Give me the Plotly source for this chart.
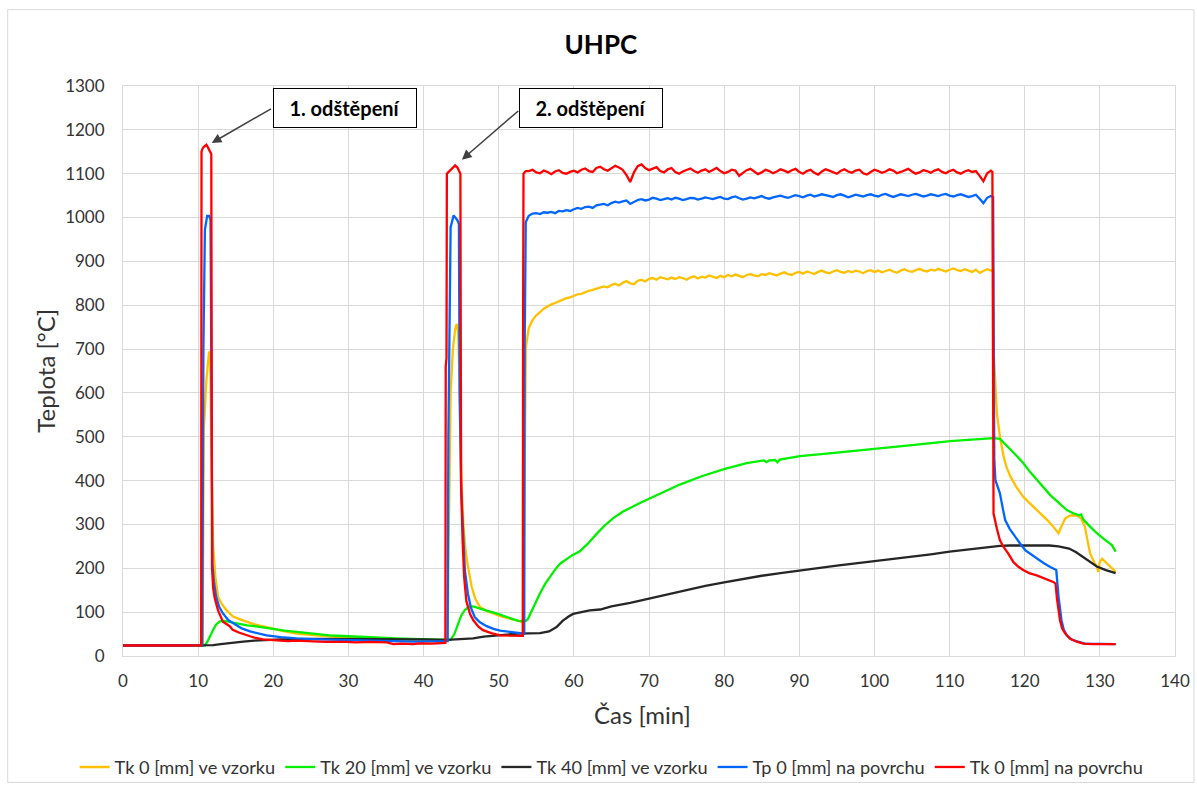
import plotly.graph_objects as go

# ---------------------------------------------------------------------------
# Measured temperatures (time in min, temperature in °C)
# ---------------------------------------------------------------------------

# common sampling times of the long heating phase
T_HOLD = [
    54.0, 54.5, 55.0, 55.5, 56.0, 56.5, 57.0, 57.5, 58.0, 58.5,
    59.0, 59.5, 60.0, 60.5, 61.0, 61.5, 62.0, 62.5, 63.0, 63.5,
    64.0, 64.5, 65.0, 65.5, 66.0, 66.5, 67.0, 67.5, 68.0, 68.5,
    69.0, 69.5, 70.0, 70.5, 71.0, 71.5, 72.0, 72.5, 73.0, 73.5,
    74.0, 74.5, 75.0, 75.5, 76.0, 76.5, 77.0, 77.5, 78.0, 78.5,
    79.0, 79.5, 80.0, 80.5, 81.0, 81.5, 82.0, 82.5, 83.0, 83.5,
    84.0, 84.5, 85.0, 85.5, 86.0, 86.5, 87.0, 87.5, 88.0, 88.5,
    89.0, 89.5, 90.0, 90.5, 91.0, 91.5, 92.0, 92.5, 93.0, 93.5,
    94.0, 94.5, 95.0, 95.5, 96.0, 96.5, 97.0, 97.5, 98.0, 98.5,
    99.0, 99.5, 100.0, 100.5, 101.0, 101.5, 102.0, 102.5, 103.0, 103.5,
    104.0, 104.5, 105.0, 105.5, 106.0, 106.5, 107.0, 107.5, 108.0, 108.5,
    109.0, 109.5, 110.0, 110.5, 111.0, 111.5, 112.0, 112.5, 113.0, 113.5,
    114.0, 114.5, 115.0, 115.5,
]

# --- Tk 0 [mm] na povrchu (red) ---
red_pre = [
    (0, 24), (10.4, 24), (10.45, 1150), (10.6, 1158), (10.8, 1162), (11.1, 1166),
    (11.3, 1160), (11.6, 1152), (11.75, 1145), (11.8, 700), (11.85, 200), (12.0, 155),
    (12.2, 132), (12.65, 104), (12.9, 95), (13.3, 78), (14.2, 68), (14.6, 60),
    (15.5, 53), (16.4, 47), (16.9, 45), (17.5, 42), (18.6, 38), (19.5, 37),
    (20.9, 35), (22.0, 34), (23.0, 35), (25.3, 33), (27.0, 32), (29.7, 32),
    (31.0, 31), (33.0, 32), (35.1, 31), (36.0, 27), (37.0, 28), (38.6, 27),
    (39.5, 29), (41.0, 28), (42.2, 30), (42.9, 30), (42.95, 660), (43.05, 680),
    (43.1, 1100), (43.6, 1108), (44.0, 1115), (44.2, 1119), (44.5, 1114), (44.7, 1108),
    (44.9, 1100), (44.95, 700), (45.0, 390), (45.2, 260), (45.4, 180), (45.7, 125),
    (46.2, 95), (46.6, 82), (47.3, 67), (47.9, 59), (49.0, 52), (50.2, 47),
    (51.5, 46), (52.5, 46), (53.2, 46), (53.25, 800), (53.3, 1100), (53.6, 1106),
]
red_hold = [
    1106, 1109, 1103, 1101, 1107, 1104, 1099, 1105, 1108, 1102,
    1100, 1104, 1107, 1103, 1109, 1112, 1106, 1104, 1113, 1116,
    1110, 1107, 1112, 1118, 1114, 1109, 1097, 1081, 1103, 1117,
    1121, 1113, 1108, 1111, 1115, 1106, 1103, 1110, 1113, 1104,
    1100, 1105, 1109, 1112, 1106, 1102, 1107, 1110, 1104, 1108,
    1113, 1106, 1101, 1104, 1109, 1107, 1095, 1102, 1108, 1111,
    1104, 1099, 1103, 1109, 1106, 1101, 1105, 1110, 1107, 1103,
    1108, 1111, 1104, 1100, 1106, 1109, 1102, 1098, 1105, 1110,
    1107, 1103, 1100, 1106, 1110, 1105, 1102, 1107, 1109, 1101,
    1098, 1104, 1109, 1106, 1102, 1105, 1110, 1107, 1101, 1104,
    1108, 1111, 1105, 1100, 1103, 1108, 1106, 1102, 1107, 1110,
    1104, 1101, 1106, 1109, 1103, 1100, 1105, 1108, 1104, 1106,
    1095, 1083, 1101, 1107,
]
red_post = [
    (115.7, 1104), (115.75, 600), (115.85, 325), (116.3, 290), (116.7, 264),
    (117.2, 248), (117.8, 234), (118.5, 214), (119.2, 203), (119.8, 196),
    (120.6, 189), (121.6, 184), (122.5, 178), (123.2, 174), (123.8, 169),
    (124.1, 165), (124.3, 130), (124.7, 81), (125.0, 62), (125.4, 51),
    (126.0, 40), (127.0, 32), (127.8, 28), (129.0, 27), (132.1, 27),
]

# --- Tp 0 [mm] na povrchu (blue) ---
blue_pre = [
    (0, 24), (10.55, 24), (10.7, 700), (10.9, 972), (11.2, 1004), (11.45, 1004),
    (11.65, 995), (11.75, 700), (11.9, 211), (12.1, 170), (12.4, 135), (12.8, 112),
    (13.3, 97), (14.0, 82), (14.9, 72), (15.8, 63), (16.9, 56), (18.0, 51),
    (19.1, 47), (21.0, 43), (23.1, 40), (26.0, 38), (29.7, 36), (33.0, 35),
    (36.0, 34), (38.6, 33), (40.5, 33), (42.5, 34), (43.2, 34), (43.3, 500),
    (43.6, 978), (44.0, 1005), (44.5, 994), (44.7, 985), (44.8, 600), (45.0, 380),
    (45.3, 260), (45.5, 195), (45.9, 142), (46.3, 110), (46.8, 89), (47.5, 77),
    (48.4, 68), (49.3, 62), (50.2, 58), (51.5, 55), (52.8, 52), (53.4, 51),
    (53.45, 700), (53.6, 990),
]
blue_hold = [
    1004, 1009, 1010, 1008, 1012, 1011, 1013, 1010, 1015, 1014,
    1017, 1015, 1019, 1022, 1020, 1024, 1025, 1022, 1028, 1030,
    1031, 1028, 1033, 1036, 1034, 1037, 1039, 1031, 1035, 1040,
    1042, 1039, 1041, 1045, 1043, 1040, 1042, 1044, 1041, 1045,
    1043, 1040, 1042, 1045, 1044, 1041, 1043, 1046, 1044, 1042,
    1045, 1047, 1043, 1042, 1046, 1048, 1044, 1041, 1043, 1046,
    1044, 1047, 1049, 1045, 1043, 1046, 1048, 1050, 1047, 1045,
    1048, 1051, 1049, 1046, 1050, 1052, 1048, 1050, 1053, 1051,
    1049, 1047, 1051, 1053, 1050, 1046, 1049, 1052, 1050, 1048,
    1051, 1053, 1050, 1048, 1052, 1054, 1050, 1047, 1050, 1053,
    1051, 1049, 1052, 1054, 1051, 1048, 1050, 1053, 1051, 1049,
    1052, 1054, 1050, 1048, 1051, 1053, 1050, 1047, 1049, 1052,
    1043, 1033, 1045, 1049,
]
blue_post = [
    (115.8, 1047), (115.85, 700), (115.95, 450), (116.1, 401), (116.5, 380),
    (116.7, 371), (117.1, 335), (117.4, 310), (118.0, 290), (118.7, 272),
    (119.4, 256), (120.1, 241), (120.8, 232), (121.6, 222), (122.5, 212),
    (123.4, 203), (124.2, 196), (124.5, 135), (124.9, 81), (125.2, 60),
    (125.6, 47), (126.3, 37), (127.1, 32), (128.0, 28), (132.1, 27),
]

# --- Tk 0 [mm] ve vzorku (orange) ---
orange_pre = [
    (0, 24), (10.6, 24), (10.75, 515), (11.1, 630), (11.45, 694), (11.6, 690),
    (11.8, 420), (12.0, 250), (12.3, 180), (12.65, 135), (13.1, 120), (13.6, 108),
    (14.2, 97), (14.65, 90), (15.5, 84), (16.4, 78), (17.5, 72), (19.1, 66),
    (21.0, 58), (23.1, 51), (25.5, 47), (27.5, 44), (30.0, 41), (34.2, 37),
    (38.0, 36), (42.2, 36), (43.2, 36), (43.3, 211), (43.5, 450), (43.6, 600),
    (43.9, 700), (44.2, 745), (44.4, 757), (44.6, 740), (44.75, 650), (45.0, 420),
    (45.3, 300), (45.6, 240), (45.9, 204), (46.4, 158), (46.9, 130), (47.5, 112),
    (48.4, 103), (49.3, 97), (50.4, 90), (51.5, 85), (52.8, 78), (53.3, 77),
    (53.45, 400), (53.6, 700), (53.8, 726),
]
orange_hold = [
    748, 766, 777, 784, 792, 797, 802, 805, 809, 812,
    816, 818, 822, 825, 826, 830, 833, 835, 838, 840,
    843, 841, 846, 849, 845, 851, 855, 850, 848, 856,
    858, 854, 860, 862, 858, 864, 861, 859, 863, 860,
    864, 862, 858, 863, 866, 861, 865, 863, 868, 865,
    862, 867, 864, 869, 866, 870, 867, 864, 869, 871,
    868, 866, 871, 869, 873, 870, 868, 872, 875, 871,
    869, 874, 876, 872, 877, 874, 871, 876, 879, 875,
    873, 877, 880, 876, 874, 878, 875, 879, 877, 873,
    878, 880, 876, 879, 875, 878, 881, 877, 874, 879,
    882, 878, 876, 880, 883, 879, 877, 881, 879, 883,
    880, 877, 881, 884, 880, 878, 882, 879, 876, 881,
    874, 878, 882, 879,
]
orange_post = [
    (115.8, 880), (115.85, 700), (116.1, 622), (116.3, 553), (116.7, 500),
    (117.2, 454), (117.6, 430), (118.1, 409), (118.9, 385), (119.8, 363),
    (121.0, 343), (122.1, 326), (123.0, 310), (123.8, 295), (124.5, 280),
    (124.9, 296), (125.4, 314), (126.0, 320), (126.5, 321), (127.0, 320),
    (127.5, 314), (128.0, 295), (128.4, 260), (128.7, 234), (129.3, 212),
    (129.6, 203), (129.8, 192), (130.0, 215), (130.3, 222), (130.8, 213),
    (131.3, 205), (131.8, 197), (132.1, 192),
]

# --- Tk 20 [mm] ve vzorku (green) ---
green_pts = [
    (0, 24), (10.9, 24), (11.3, 35), (11.7, 50), (12.0, 60), (12.4, 72),
    (12.9, 79), (13.5, 80), (14.6, 76), (15.5, 74), (16.5, 70), (17.5, 68),
    (18.6, 65), (20.0, 61), (21.5, 58), (23.1, 55), (25.0, 51), (27.5, 47),
    (30.0, 45), (32.0, 43), (34.0, 41), (36.4, 40), (38.5, 39), (40.0, 38),
    (42.2, 37), (43.6, 37), (44.1, 50), (44.6, 75), (45.0, 92), (45.5, 105),
    (46.0, 112), (46.6, 113), (47.5, 109), (48.5, 103), (49.7, 97), (50.8, 90),
    (51.9, 83), (52.6, 80), (53.2, 79), (53.6, 80), (53.9, 85), (54.3, 100),
    (54.8, 120), (55.5, 143), (56.2, 165), (56.8, 181), (57.5, 197), (58.2, 211),
    (59.0, 221), (59.8, 230), (60.8, 239), (61.8, 255), (63.0, 278), (64.0, 296),
    (65.2, 314), (66.5, 329), (68.8, 349), (71.0, 366), (74.1, 391), (77.0, 410),
    (80.1, 427), (83.0, 440), (85.3, 446), (85.6, 442), (86.0, 446), (86.8, 447),
    (87.1, 442), (87.4, 448), (90.1, 456), (95.0, 464), (100.1, 472), (105.0, 481),
    (110.1, 490), (113.0, 494), (115.85, 497), (116.7, 495), (117.4, 484), (118.1, 471),
    (119.0, 455), (119.8, 440), (120.7, 420), (121.6, 402), (122.5, 384), (123.4, 367),
    (124.5, 350), (125.6, 333), (126.4, 326), (127.2, 321), (127.5, 323), (127.8, 311),
    (128.7, 295), (129.6, 280), (130.6, 266), (131.6, 253), (132.1, 238),
]

# --- Tk 40 [mm] ve vzorku (black) ---
black_pts = [
    (0, 24), (11.0, 24), (12.0, 25), (13.0, 27), (14.6, 31), (16.0, 33),
    (17.5, 35), (19.1, 37), (21.0, 38), (25.3, 39), (30.0, 39), (35.0, 38),
    (40.0, 38), (43.1, 37), (44.5, 38), (46.6, 40), (48.0, 44), (50.2, 48),
    (52.5, 51), (55.5, 52), (56.7, 56), (57.7, 66), (58.5, 80), (59.3, 90),
    (59.9, 96), (61.0, 100), (62.1, 104), (63.5, 106), (65.0, 113), (67.5, 121),
    (70.0, 131), (72.5, 141), (75.0, 150), (77.5, 160), (80.0, 168), (82.5, 176),
    (85.0, 183), (87.5, 189), (90.0, 195), (92.5, 201), (95.0, 206), (97.5, 211),
    (100.0, 216), (102.5, 221), (105.0, 226), (107.5, 232), (110.0, 238), (112.5, 243),
    (114.0, 246), (116.7, 251), (118.0, 252), (120.0, 252), (122.0, 253), (123.3, 252),
    (124.5, 250), (125.9, 245), (126.8, 237), (127.8, 225), (128.7, 213), (129.6, 204),
    (130.8, 196), (132.1, 189),
]

SERIES_NAMES = [
    "Tk 0 [mm] ve vzorku",
    "Tk 20 [mm] ve vzorku",
    "Tk 40 [mm] ve vzorku",
    "Tp 0 [mm] na povrchu",
    "Tk 0 [mm] na povrchu",
]
X_TICKS = [0, 10, 20, 30, 40, 50, 60, 70, 80, 90, 100, 110, 120, 130, 140]
Y_TICKS = [0, 100, 200, 300, 400, 500, 600, 700, 800, 900, 1000, 1100, 1200, 1300]

# spalling events: (label, peak point, start of the pointer line, label centre)
EVENTS = [
    ("1. odštěpení", (11.8, 1170), (19.9, 1250), (29.6, 1250)),
    ("2. odštěpení", (45.1, 1132), (52.8, 1246), (62.3, 1250)),
]


def join(pre, hold, post):
    t = [p[0] for p in pre] + T_HOLD + [p[0] for p in post]
    v = [p[1] for p in pre] + hold + [p[1] for p in post]
    return t, v


def split(points):
    return [p[0] for p in points], [p[1] for p in points]


series = [
    (SERIES_NAMES[0], join(orange_pre, orange_hold, orange_post), "#FFC000"),
    (SERIES_NAMES[1], split(green_pts), "#00F000"),
    (SERIES_NAMES[2], split(black_pts), "#262626"),
    (SERIES_NAMES[3], join(blue_pre, blue_hold, blue_post), "#0066FF"),
    (SERIES_NAMES[4], join(red_pre, red_hold, red_post), "#FF0000"),
]

FONT = "Lato, Calibri, 'Open Sans', sans-serif"
GRID = "#D9D9D9"
TEXT = "#333333"

fig = go.Figure()
for name, (t, v), color in series:
    fig.add_trace(go.Scatter(
        x=t, y=v, mode="lines", name=name,
        line=dict(color=color, width=2.3),
    ))

fig.update_layout(
    width=1197, height=785,
    margin=dict(l=123, r=22, t=86, b=129, autoexpand=False),
    paper_bgcolor="white", plot_bgcolor="white",
    font=dict(family=FONT, color=TEXT),
    title=dict(text="<b>UHPC</b>", x=0.502, xref="container", xanchor="center",
               y=0.943, yref="container", yanchor="middle",
               font=dict(size=26, color="#000000", family=FONT)),
    showlegend=True,
    legend=dict(orientation="h", x=-0.046, xanchor="left", y=-0.195, yanchor="middle",
                font=dict(size=18.2, color=TEXT, family=FONT), bgcolor="rgba(0,0,0,0)",
                traceorder="normal"),
)

fig.update_xaxes(
    range=[0, 140], tickvals=X_TICKS, ticktext=[str(v) for v in X_TICKS],
    showgrid=True, gridcolor=GRID, gridwidth=1, zeroline=False,
    showline=True, linecolor=GRID, linewidth=1, mirror=True,
    ticks="outside", ticklen=10, tickcolor="rgba(0,0,0,0)",
    tickfont=dict(size=17, color=TEXT, family=FONT),
)
fig.update_yaxes(
    range=[0, 1300], tickvals=Y_TICKS, ticktext=[str(v) for v in Y_TICKS],
    showgrid=True, gridcolor=GRID, gridwidth=1, zeroline=False,
    showline=True, linecolor=GRID, linewidth=1, mirror=True,
    ticks="outside", ticklen=14, tickcolor="rgba(0,0,0,0)",
    tickfont=dict(size=17, color=TEXT, family=FONT),
)

annotations = [
    dict(text="Teplota [°C]", x=-0.0745, y=0.5, xref="paper", yref="paper",
         textangle=-90, showarrow=False, xanchor="center", yanchor="middle",
         font=dict(size=24, color=TEXT, family=FONT)),
    dict(text="Čas [min]", x=0.494, y=-0.1024, xref="paper", yref="paper",
         showarrow=False, xanchor="center", yanchor="middle",
         font=dict(size=24, color=TEXT, family=FONT)),
]
for label, tip, tail, centre in EVENTS:
    annotations.append(dict(
        x=tip[0], y=tip[1], ax=tail[0], ay=tail[1],
        xref="x", yref="y", axref="x", ayref="y",
        text="", showarrow=True, arrowhead=2, arrowsize=1.3, arrowwidth=1.5,
        arrowcolor="#404040", standoff=0, startstandoff=0,
    ))
    annotations.append(dict(
        x=centre[0], y=centre[1], xref="x", yref="y", text="<b>" + label + "</b>",
        showarrow=False, xanchor="center", yanchor="middle",
        bgcolor="white", bordercolor="#000000", borderwidth=1, borderpad=7,
        width=128, height=24, font=dict(size=20, color="#000000", family=FONT),
    ))
fig.update_layout(annotations=annotations)

# light frame around the whole chart area
fig.add_shape(type="rect", xref="paper", yref="paper",
              x0=-0.1096, x1=1.018, y0=-0.2218, y1=1.134,
              line=dict(color=GRID, width=1), fillcolor="rgba(0,0,0,0)", layer="below")

fig.write_html("out.html")
